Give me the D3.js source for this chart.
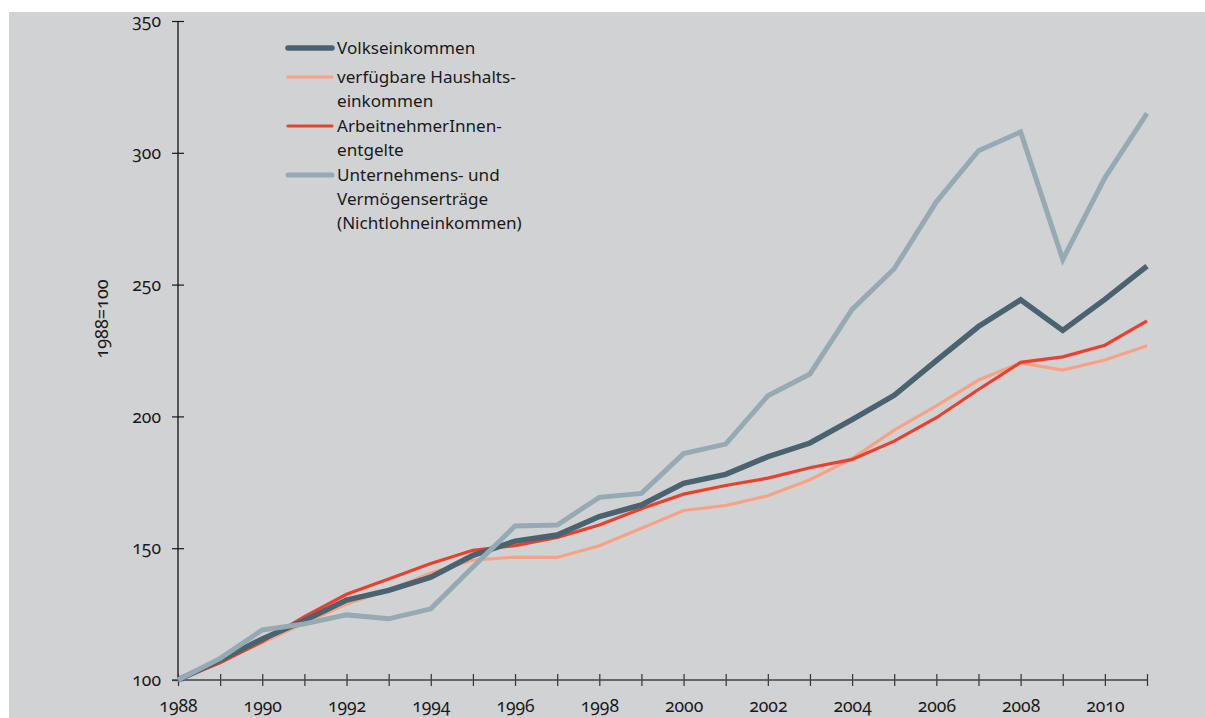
<!DOCTYPE html>
<html>
<head>
<meta charset="utf-8">
<script src="https://cdn.jsdelivr.net/npm/d3@7"></script>
<style>
  html, body { margin: 0; padding: 0; background: #ffffff; }
  svg { display: block; }
  text { font-family: "Noto Sans", "Open Sans", sans-serif; fill: #1a1a1a; font-variant-numeric: oldstyle-nums; }
</style>
</head>
<body>
<svg id="chart" width="1205" height="718"></svg>
<script>
const years = d3.range(1988, 2012);
const volkseinkommen = [100, 107.6, 115.6, 122.6, 130.3, 134.0, 139.0, 147.3, 152.7, 155.0, 162.0, 166.4, 174.6, 178.0, 184.7, 189.9, 198.8, 208.0, 221.2, 234.1, 244.2, 232.6, 244.4, 257.0];
const haushaltseinkommen = [100, 107.0, 114.2, 121.6, 128.8, 134.1, 140.6, 145.5, 146.6, 146.5, 150.9, 157.6, 164.3, 166.2, 169.9, 176.0, 184.0, 194.8, 204.0, 213.8, 220.3, 217.6, 221.4, 226.8];
const arbeitnehmerentgelte = [100, 106.5, 114.6, 124.0, 132.5, 138.3, 144.2, 149.2, 151.0, 154.1, 158.8, 165.0, 170.5, 173.8, 176.6, 180.5, 183.7, 190.6, 199.5, 210.2, 220.5, 222.6, 227.0, 236.2];
const nichtlohneinkommen = [100, 108.2, 119.0, 121.3, 124.7, 123.2, 127.0, 142.9, 158.4, 158.8, 169.3, 170.8, 185.9, 189.5, 207.8, 216.1, 240.6, 256.0, 281.4, 300.8, 307.9, 259.5, 290.5, 315.0];
const seriesNames = ["Volkseinkommen", "verfügbare Haushalts-\neinkommen", "ArbeitnehmerInnen-\nentgelte", "Unternehmens- und\nVermögenserträge\n(Nichtlohneinkommen)"];
const seriesColors = ["#4a6370", "#f8a285", "#ec3f2c", "#96aab4"];
const yTicks = [100, 150, 200, 250, 300, 350];
const xLabelYears = d3.range(1988, 2012, 2);
const yAxisTitle = "1988=100";

const svg = d3.select("#chart");
svg.append("rect").attr("x", 9).attr("y", 12).attr("width", 1205 - 9).attr("height", 718 - 12).attr("fill", "#d1d2d4");

const x = d3.scaleLinear().domain([1988, 2011]).range([178, 1147]);
const y = d3.scaleLinear().domain([100, 350]).range([680, 21]);

// Y axis
const yAxis = d3.axisLeft(y).tickValues(yTicks).tickSize(0).tickPadding(17).tickFormat(d3.format("d"));
const gy = svg.append("g").attr("transform", "translate(178,0)").call(yAxis);
gy.select(".domain").remove();
gy.selectAll(".tick text").attr("font-size", 17.5).attr("fill", "#1a1a1a").style("font-family", null);
gy.selectAll(".tick").append("line").attr("x1", -6).attr("x2", 6).attr("stroke", "#1a1a1a").attr("stroke-width", 1.2);
gy.append("line").attr("y1", y(350)).attr("y2", y(100)).attr("stroke", "#111").attr("stroke-width", 1.3);

// X axis
const xAxis = d3.axisBottom(x).tickValues(years).tickSize(0).tickPadding(20)
  .tickFormat(d => xLabelYears.includes(d) ? String(d) : "");
const gx = svg.append("g").attr("transform", "translate(0,680)").call(xAxis);
gx.select(".domain").remove();
gx.selectAll(".tick text").attr("font-size", 17.5).attr("fill", "#1a1a1a").style("font-family", null);
gx.selectAll(".tick").append("line").attr("y1", -6).attr("y2", 6).attr("stroke", "#333").attr("stroke-width", 1.2);
gx.append("line").attr("x1", 172).attr("x2", 1147).attr("stroke", "#444").attr("stroke-width", 1.5);

// Y title
svg.append("text").attr("transform", "translate(108,319) rotate(-90)")
  .attr("text-anchor", "middle").attr("font-size", 18).text(yAxisTitle);

// Lines
const allSeries = [volkseinkommen, haushaltseinkommen, arbeitnehmerentgelte, nichtlohneinkommen];
const widths = [5.5, 3.2, 3.2, 5];
const drawOrder = [1, 2, 0, 3];
const line = d3.line().x((d, i) => x(years[i])).y(d => y(d));
svg.append("g").selectAll("path").data(drawOrder).join("path")
  .attr("d", k => line(allSeries[k]))
  .attr("fill", "none")
  .attr("stroke", k => seriesColors[k])
  .attr("stroke-width", k => widths[k])
  .attr("stroke-linejoin", "miter");

// Legend
const legendY = [48, 77, 126, 175];
const lg = svg.append("g");
seriesNames.forEach((name, i) => {
  lg.append("line").attr("x1", 288).attr("x2", 332).attr("y1", legendY[i]).attr("y2", legendY[i])
    .attr("stroke", seriesColors[i]).attr("stroke-width", widths[i]).attr("stroke-linecap", "round");
  const t = lg.append("text").attr("x", 337).attr("y", legendY[i] + 6).attr("font-size", 17.1);
  name.split("\n").forEach((ln, j) => {
    t.append("tspan").attr("x", 337).attr("dy", j === 0 ? 0 : 24).text(ln);
  });
});
</script>
</body>
</html>
